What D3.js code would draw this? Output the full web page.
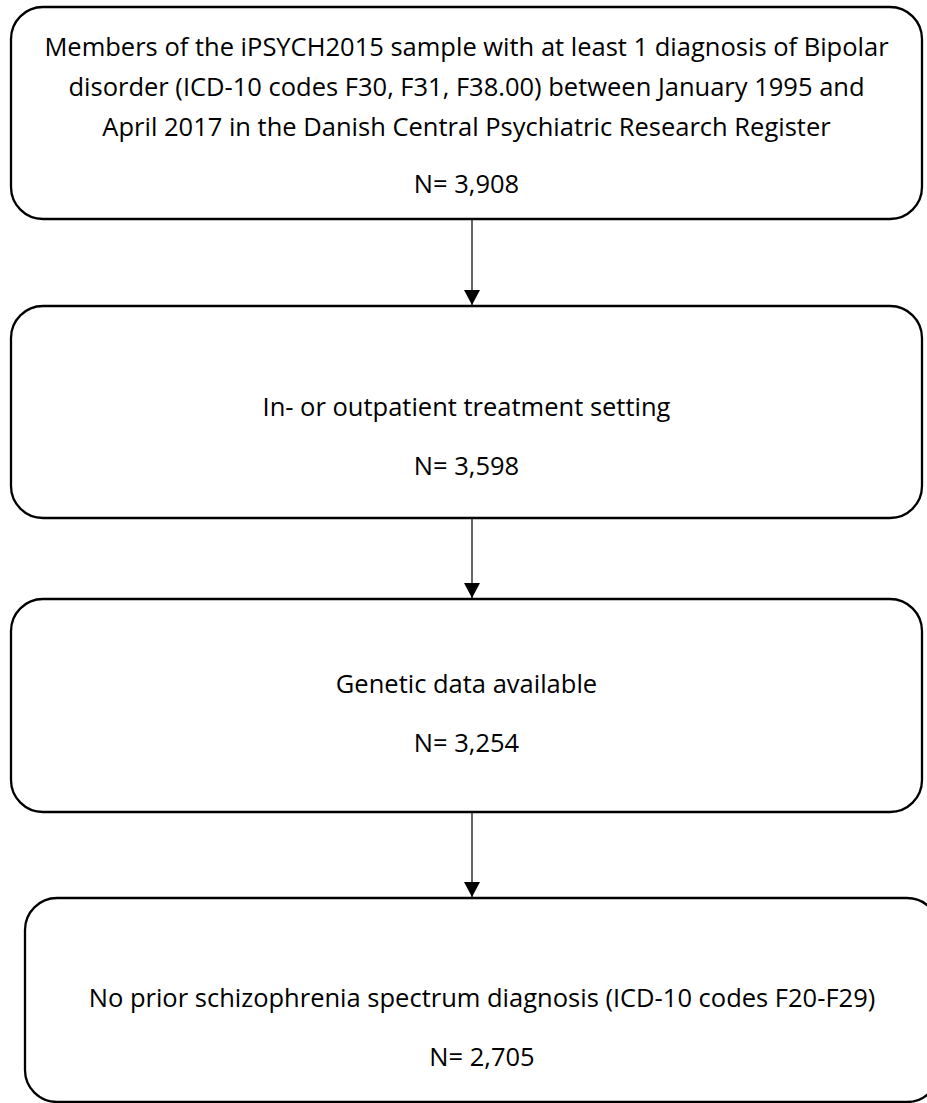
<html>

<head>
  <title>iPSYCH2015 bipolar flowchart</title>
  <script type="text/javascript" src="https://cdn.jsdelivr.net/npm/d3@7"></script>
  <style>
    body { margin: 0; background: #fff; }
  </style>
</head>

<body>
  <script type="text/javascript">
    // Tekst i hver boks
    const labels = [
      ["Members of the iPSYCH2015 sample with at least 1 diagnosis of Bipolar",
       "disorder (ICD-10 codes F30, F31, F38.00) between January 1995 and",
       "April 2017 in the Danish Central Psychiatric Research Register"],
      ["In- or outpatient treatment setting"],
      ["Genetic data available"],
      ["No prior schizophrenia spectrum diagnosis (ICD-10 codes F20-F29)"]
    ];
    const counts = [3908, 3598, 3254, 2705];

    // Layout for boksene (x0, y0, x1, y1)
    const boxes = [
      [11, 7, 922, 219],
      [11, 306, 922, 518],
      [11, 599, 922, 812],
      [25, 898, 939, 1102]
    ];
    // y for første tekstlinje og N-linje i hver boks
    const textY = [[56, 193], [416, 475], [693, 752], [1007, 1066]];
    const lineGap = 40;

    const w = 927;
    const h = 1103;
    const radius = 32;

    const svg = d3.select("body")
      .append("svg")
      .attr("width", w)
      .attr("height", h);

    // Pilehoved
    svg.append("defs")
      .append("marker")
      .attr("id", "arrow")
      .attr("viewBox", "0 0 15 16")
      .attr("refX", 15)
      .attr("refY", 8)
      .attr("markerWidth", 15)
      .attr("markerHeight", 16)
      .attr("markerUnits", "userSpaceOnUse")
      .attr("orient", "auto")
      .append("path")
      .attr("d", "M0,0 L15,8 L0,16 Z")
      .attr("fill", "black");

    const fmt = d3.format(",");

    // Bokse
    svg.selectAll("rect.box")
      .data(boxes)
      .enter()
      .append("rect")
      .attr("class", "box")
      .attr("x", d => d[0])
      .attr("y", d => d[1])
      .attr("width", d => d[2] - d[0])
      .attr("height", d => d[3] - d[1])
      .attr("rx", radius)
      .attr("ry", radius)
      .attr("fill", "white")
      .attr("stroke", "black")
      .attr("stroke-width", 2.3);

    // Pile mellem boksene
    svg.selectAll("line.arrow")
      .data(d3.pairs(boxes))
      .enter()
      .append("line")
      .attr("class", "arrow")
      .attr("x1", 472)
      .attr("x2", 472)
      .attr("y1", d => d[0][3] + 1)
      .attr("y2", d => d[1][1] - 1)
      .attr("stroke", "black")
      .attr("stroke-width", 1.2)
      .attr("marker-end", "url(#arrow)");

    // Tekst
    labels.forEach(function(lines, i) {
      const cx = (boxes[i][0] + boxes[i][2]) / 2;
      const g = svg.append("g")
        .attr("font-family", "'Open Sans', sans-serif")
        .attr("font-size", "25.5px")
        .attr("fill", "black")
        .attr("text-anchor", "middle");
      g.selectAll("text.line")
        .data(lines)
        .enter()
        .append("text")
        .attr("class", "line")
        .attr("x", cx)
        .attr("y", (d, j) => textY[i][0] + j * lineGap)
        .text(d => d);
      g.append("text")
        .attr("x", cx)
        .attr("y", textY[i][1])
        .text("N= " + fmt(counts[i]));
    });
  </script>
</body>

</html>
